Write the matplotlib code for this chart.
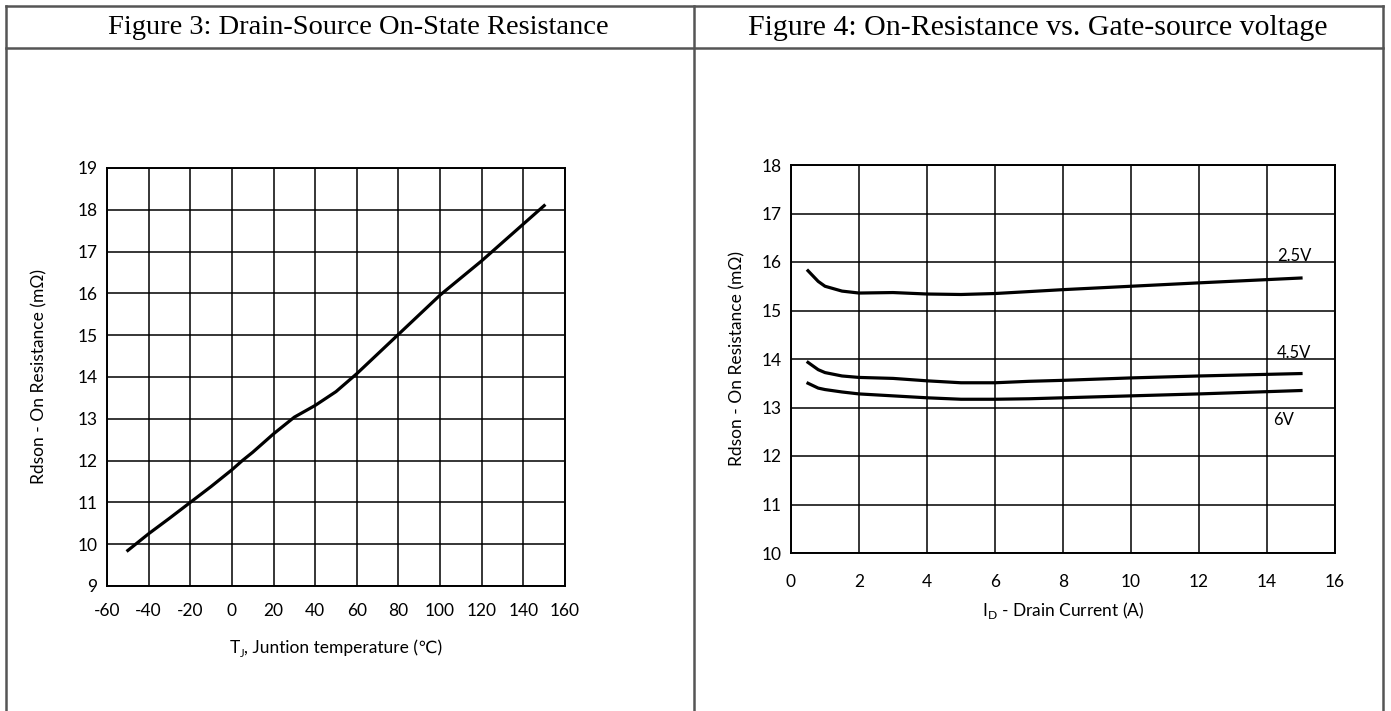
import matplotlib
matplotlib.use('Agg')
import matplotlib.pyplot as plt
from matplotlib.lines import Line2D
import numpy as np

plt.rcParams['font.family'] = ['Lato', 'DejaVu Sans']
plt.rcParams['mathtext.fontset'] = 'custom'
plt.rcParams['mathtext.rm'] = 'Lato'
plt.rcParams['axes.unicode_minus'] = False

# Figure 3 data: Rdson vs junction temperature
temp = [-50, -40, -30, -20, -10, 0, 5, 10, 20, 30, 40, 50, 60, 80, 100, 120, 150]
rdson_t = [9.85, 10.25, 10.62, 11.0, 11.38, 11.78, 12.0, 12.2, 12.64, 13.04, 13.32, 13.65, 14.08, 15.02, 15.96, 16.78, 18.1]

# Figure 4 data: Rdson vs drain current for three Vgs
i_d = [0.5, 0.8, 1.0, 1.5, 2, 3, 4, 5, 6, 7, 8, 10, 12, 15]
r_25 = [15.82, 15.6, 15.5, 15.4, 15.36, 15.37, 15.34, 15.33, 15.35, 15.39, 15.43, 15.5, 15.57, 15.67]
r_45 = [13.93, 13.78, 13.72, 13.65, 13.62, 13.6, 13.55, 13.51, 13.51, 13.54, 13.56, 13.61, 13.65, 13.7]
r_6 = [13.5, 13.4, 13.37, 13.32, 13.28, 13.24, 13.2, 13.17, 13.17, 13.18, 13.2, 13.24, 13.28, 13.35]
vgs_labels = ['2.5V', '4.5V', '6V']
label_pos = [(14.8, 16.12), (14.8, 14.12), (14.5, 12.75)]

W, H = 1391, 711
fig = plt.figure(figsize=(W / 100, H / 100), dpi=100)

def fx(px):
    return px / W

def fy(py):
    return 1 - py / H

# table frame
border = dict(color='#555555', lw=1.8, transform=fig.transFigure)
fig.add_artist(Line2D([fx(6), fx(1383)], [fy(6), fy(6)], **border))
fig.add_artist(Line2D([fx(6), fx(1383)], [fy(48), fy(48)], **border))
for xp in [6, 694, 1383]:
    fig.add_artist(Line2D([fx(xp), fx(xp)], [fy(6), fy(711)], **border))

fig.text(fx(358), fy(28), 'Figure 3: Drain-Source On-State Resistance', family='Liberation Serif',
         fontsize=20.5, ha='center', va='center')
fig.text(fx(1038), fy(28), 'Figure 4: On-Resistance vs. Gate-source voltage', family='Liberation Serif',
         fontsize=21.5, ha='center', va='center')

def style(ax, xpad):
    ax.grid(True, color='black', lw=1.1)
    ax.set_axisbelow(True)
    for s in ax.spines.values():
        s.set_linewidth(1.4)
    ax.tick_params(length=0, labelsize=12.5)
    ax.tick_params(axis='x', pad=xpad)
    ax.tick_params(axis='y', pad=7)

# left chart
ax1 = fig.add_axes([fx(107), fy(586), fx(565) - fx(107), fy(168) - fy(586)])
ax1.plot(temp, rdson_t, color='black', lw=2.3)
ax1.set_xlim(-60, 160)
ax1.set_ylim(9, 19)
ax1.set_xticks(np.arange(-60, 161, 20))
ax1.set_yticks(np.arange(9, 20, 1))
style(ax1, 12)
ax1.set_ylabel('Rdson - On Resistance (mΩ)', fontsize=12.5)
ax1.yaxis.set_label_coords(-0.129, 0.5)

# x label of left chart: T with subscript J, built from pieces so that ℃ can fall back to DejaVu
renderer = fig.canvas.get_renderer()
pieces = [('T', 12.5, 0), ('J', 8, -4), (', Juntion temperature (℃)', 12.5, 0)]
texts = []
total = 0
for s, size, dy in pieces:
    t = fig.text(0, 0, s, fontsize=size, ha='left', va='baseline')
    w = t.get_window_extent(renderer).width
    texts.append((t, w, dy))
    total += w
x0 = 336 - total / 2
base = H - 653
for t, w, dy in texts:
    t.set_position((x0 / W, (base + dy) / H))
    x0 += w

# right chart
ax2 = fig.add_axes([fx(791), fy(553), fx(1335) - fx(791), fy(165) - fy(553)])
for r in [r_25, r_45, r_6]:
    ax2.plot(i_d, r, color='black', lw=2.3)
for lab, (lx, ly) in zip(vgs_labels, label_pos):
    ax2.text(lx, ly, lab, fontsize=12, ha='center', va='center')
ax2.set_xlim(0, 16)
ax2.set_ylim(10, 18)
ax2.set_xticks(np.arange(0, 17, 2))
ax2.set_yticks(np.arange(10, 19, 1))
style(ax2, 15)
ax2.set_xlabel(r'I$_\mathrm{D}$ - Drain Current (A)', fontsize=12.5)
ax2.set_ylabel('Rdson - On Resistance (mΩ)', fontsize=12.5)
ax2.xaxis.set_label_coords(0.5, -0.122)
ax2.yaxis.set_label_coords(-0.083, 0.5)

fig.savefig('out.png', dpi=100)
